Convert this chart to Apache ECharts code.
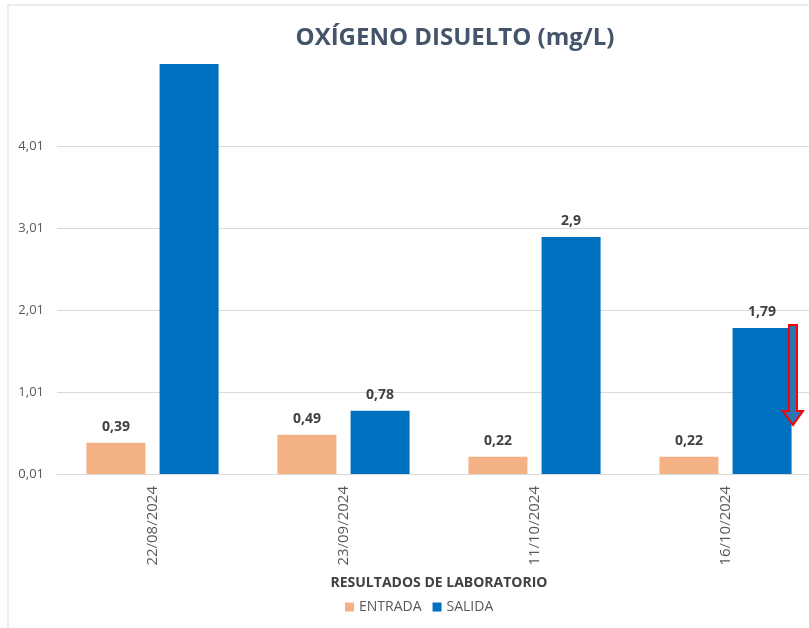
<!DOCTYPE html>
<html><head><meta charset="utf-8">
<script src="https://cdn.jsdelivr.net/npm/echarts@6/dist/echarts.min.js"></script>
<style>html,body{margin:0;padding:0;background:#fff;overflow:hidden;width:809px;height:628px}#c{width:830px;height:628px}</style>
</head><body><div id="c"></div>
<script>
const categories = ['22/08/2024','23/09/2024','11/10/2024','16/10/2024'];
const entrada = [0.39, 0.49, 0.22, 0.22];
const salida = [5.5, 0.78, 2.9, 1.79];
const yTicks = [0.01, 1.01, 2.01, 3.01, 4.01, 5.01];

const fmt = v => (Math.round(v*100)/100).toString().replace('.', ',');
const chart = echarts.init(document.getElementById('c'), null, {renderer:'canvas'});
const FONT = 'Open Sans';
const labelCfg = {show:true, position:'top', distance:9, color:'#404040', fontFamily:FONT, fontWeight:'bold', fontSize:14, formatter: p => fmt(p.value)};
chart.setOption({
  backgroundColor:'#fff',
  animation:false,
  title:{text:'OXÍGENO DISUELTO (mg/L)', left:450, top:21, textAlign:'center',
    textStyle:{fontFamily:FONT, fontWeight:'bold', fontSize:24, color:'#44546A'}},
  legend:{bottom:9, left:340, itemWidth:9, itemHeight:9, itemGap:11, icon:'rect',
    textStyle:{fontFamily:FONT, fontSize:14, color:'#595959'},
    data:['ENTRADA','SALIDA']},
  grid:{left:57, top:64, width:764, height:410},
  xAxis:{type:'category', data:categories,
    axisLine:{show:true, lineStyle:{color:'#d9d9d9'}}, axisTick:{show:false},
    axisLabel:{rotate:90, color:'#595959', fontFamily:FONT, fontSize:15, margin:12},
    name:'RESULTADOS DE LABORATORIO', nameLocation:'middle', nameGap:102,
    nameTextStyle:{fontFamily:FONT, fontWeight:'bold', fontSize:14, color:'#404040'}},
  yAxis:{type:'value', min:yTicks[0], max:yTicks[yTicks.length-1], interval:1,
    axisLine:{show:false}, axisTick:{show:false},
    axisLabel:{color:'#595959', fontFamily:FONT, fontSize:13, margin:13, showMaxLabel:false, formatter:v=>v.toFixed(2).replace('.',',')},
    splitLine:{lineStyle:{color:'#d9d9d9'}, showMaxLine:false}},
  series:[
    {name:'ENTRADA', type:'bar', data:entrada, barWidth:59, barGap:'24%', itemStyle:{color:'#F4B183'}, label:labelCfg},
    {name:'SALIDA', type:'bar', data:salida.map((v,i)=> i===0 ? {value:v, label:{show:false}} : v), barWidth:59, itemStyle:{color:'#0070C0'}, label:labelCfg, clip:true}
  ],
  graphic:[
    {type:'rect', shape:{x:8, y:5, width:900, height:640}, style:{fill:'none', stroke:'#e6e6e6', lineWidth:1.5}, silent:true, z:-1},
    {type:'polygon', shape:{points:[[789,325],[797,325],[797,411],[803,411],[793,425],[783,411],[789,411]]},
     style:{fill:'#2E75B6', stroke:'#FF0000', lineWidth:2}, z:10}
  ]
});
</script></body></html>
